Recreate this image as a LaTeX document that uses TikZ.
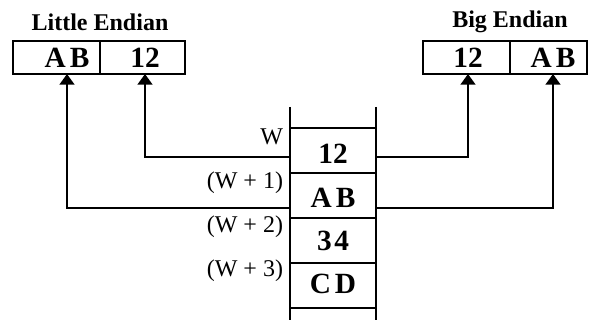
\documentclass[tikz,border=0pt]{standalone}
\usepackage{fontspec}
\setmainfont{Liberation Serif}
\usetikzlibrary{arrows.meta}
\begin{document}
\begin{tikzpicture}[x=0.75pt,y=-0.75pt,
  every node/.style={inner sep=0pt,outer sep=0pt},
  box/.style={draw,line width=1.9pt,minimum height=24.75pt},
  mem/.style={draw,line width=1.9pt,minimum width=64.5pt,minimum height=33.75pt},
  val/.style={font=\fontsize{22}{24}\selectfont\bfseries},
  ttl/.style={font=\fontsize{18}{20}\selectfont\bfseries},
  addr/.style={font=\fontsize{18}{20}\selectfont,anchor=east},
  conn/.style={line width=1.9pt,-{Triangle[length=8pt,width=11pt]}},
  rail/.style={line width=1.9pt}]
\useasboundingbox (0,0) rectangle (589,320);
% top boxes
\node[box,minimum width=65.25pt] (LA) at (56.5,57.5) {};
\node[box,minimum width=63.75pt] (L12) at (142.5,57.5) {};
\node[box,minimum width=65.25pt] (B12) at (466.5,57.5) {};
\node[box,minimum width=57.75pt] (BAB) at (548.5,57.5) {};
\node[val] (tLA) at (67,58) {A\kern3pt B};
\node[val] (tL12) at (145,58) {12};
\node[val] (tB12) at (468,58) {12};
\node[val] (tBAB) at (553,58) {A\kern3pt B};
\node[ttl] (tl) at (100,22) {Little Endian};
\node[ttl] (tb) at (510,22) {Big Endian};
% memory rails
\draw[rail] (290,107) -- (290,320);
\draw[rail] (376,107) -- (376,320);
% memory cells
\node[mem] (m12) at (333,150.5) {};
\node[mem] (mAB) at (333,195.5) {};
\node[mem] (m34) at (333,240.5) {};
\node[mem] (mCD) at (333,285.5) {};
\draw[rail] (290,308) -- (376,308);
\node[val] at (333,154) {12};
\node[val] at (333,198) {A\kern3pt B};
\node[val] at (333,241) {3\kern2pt 4};
\node[val] at (333,284) {C\kern3pt D};
% addresses
\node[addr] (aW) at (283,137) {W};
\node[addr] (a1) at (283,183) {(W + 1)};
\node[addr] (a2) at (283,227) {(W + 2)};
\node[addr] (a3) at (283,271) {(W + 3)};
% connectors
\coordinate (c12) at (0,157);
\coordinate (cAB) at (0,208);
\draw[conn] (m12.west |- c12) -| (tL12 |- L12.south);
\draw[conn] (mAB.west |- cAB) -| (tLA |- LA.south);
\draw[conn] (m12.east |- c12) -| (tB12 |- B12.south);
\draw[conn] (mAB.east |- cAB) -| (tBAB |- BAB.south);
\end{tikzpicture}
\end{document}
